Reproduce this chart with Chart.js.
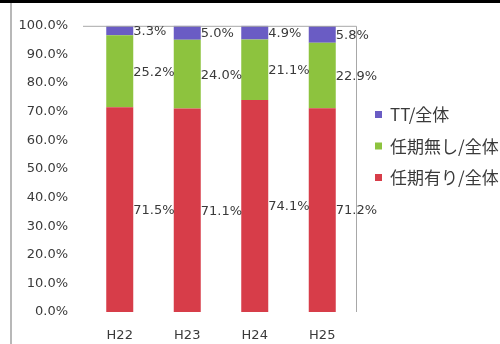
<!DOCTYPE html>
<html>
<head>
<meta charset="utf-8">
<script src="https://cdn.jsdelivr.net/npm/chart.js@4/dist/chart.umd.min.js"></script>
<style>
  html, body { margin: 0; padding: 0; background: #fff; }
  #wrap { width: 500px; height: 344px; position: relative; }
</style>
</head>
<body>
<div id="wrap"><canvas id="c" width="500" height="344"></canvas></div>
<script>
const years = ["H22", "H23", "H24", "H25"];
const fixedTerm = [0.715, 0.711, 0.741, 0.712];   // 任期有り/全体
const noTerm = [0.252, 0.240, 0.211, 0.229];      // 任期無し/全体
const tt = [0.033, 0.050, 0.049, 0.058];          // TT/全体
const yTicks = [0, 0.1, 0.2, 0.3, 0.4, 0.5, 0.6, 0.7, 0.8, 0.9, 1.0];

const txt = "#3a3a3a";
const font = "'DejaVu Sans', sans-serif";
const jpFont = "'Noto Sans CJK JP', sans-serif";

const pct = v => (v * 100).toFixed(1) + "%";

// frame, value labels, legend
const decor = {
  id: "decor",
  beforeDraw(chart) {
    const c = chart.ctx;
    c.save();
    c.fillStyle = "#fff";
    c.fillRect(0, 0, chart.width, chart.height);
    c.fillStyle = "#000";
    c.fillRect(0, 0, chart.width, 3);
    c.fillStyle = "#b8b8b8";
    c.fillRect(10, 3, 2, chart.height - 3);
    c.restore();
  },
  afterDatasetsDraw(chart) {
    const c = chart.ctx;
    const a = chart.chartArea;
    c.save();
    c.strokeStyle = "#a8a8a8";
    c.lineWidth = 1;
    c.beginPath();
    c.moveTo(a.left - 3, a.top + 0.5);
    c.lineTo(a.right + 0.5, a.top + 0.5);
    c.lineTo(a.right + 0.5, a.bottom);
    c.stroke();

    c.font = "13px " + font;
    c.fillStyle = txt;
    c.textAlign = "left";
    c.textBaseline = "middle";
    chart.data.datasets.forEach((ds, i) => {
      chart.getDatasetMeta(i).data.forEach((bar, j) => {
        const y = (bar.y + bar.base) / 2;
        c.fillText(pct(ds.data[j]), bar.x + bar.width / 2, y + 1);
      });
    });

    // legend, reversed order
    c.font = "17px " + jpFont;
    const items = chart.data.datasets.slice().reverse();
    items.forEach((ds, k) => {
      const y = 115 + k * 31.5;
      c.fillStyle = ds.backgroundColor;
      c.fillRect(375, y - 4, 7, 7);
      c.fillStyle = txt;
      c.fillText(ds.label, 390, y);
    });
    c.restore();
  }
};

new Chart(document.getElementById("c"), {
  type: "bar",
  data: {
    labels: years,
    datasets: [
      { label: "任期有り/全体", data: fixedTerm, backgroundColor: "#d73d49" },
      { label: "任期無し/全体", data: noTerm, backgroundColor: "#8dc33e" },
      { label: "TT/全体", data: tt, backgroundColor: "#6a5cc4" }
    ]
  },
  options: {
    responsive: false,
    animation: false,
    layout: { padding: { top: 24, right: 144, left: 0, bottom: 0 } },
    datasets: { bar: { barPercentage: 0.8, categoryPercentage: 0.5 } },
    plugins: { legend: { display: false }, tooltip: { enabled: false } },
    scales: {
      x: {
        stacked: true,
        grid: { display: false, drawTicks: false },
        border: { display: false },
        ticks: { color: txt, font: { family: font, size: 13 }, padding: 16 },
        afterFit(s) { s.height = 32; }
      },
      y: {
        stacked: true,
        min: 0,
        max: 1,
        afterBuildTicks(s) { s.ticks = yTicks.map(v => ({ value: v })); },
        grid: { display: false, drawTicks: false },
        border: { display: false },
        ticks: { color: txt, font: { family: font, size: 13 }, padding: 18, callback: v => pct(v) },
        afterFit(s) { s.width = 86; }
      }
    }
  },
  plugins: [decor]
});
</script>
</body>
</html>
